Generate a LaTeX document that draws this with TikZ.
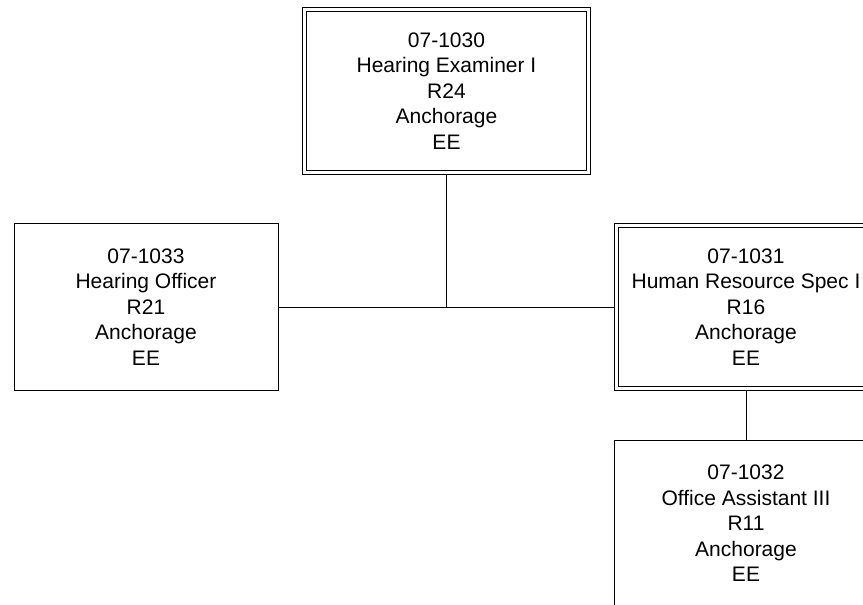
\documentclass[tikz,border=0pt]{standalone}
\usepackage{fontspec}
\setmainfont{Liberation Sans}
\usetikzlibrary{positioning, backgrounds}
\tikzset {
    x=1pt, y=1pt,
    line width=1.4pt,
    every node/.style={font=\fontsize{21}{25.6}\selectfont, align=center, inner sep=0pt},
    post/.style={draw, fill=white, minimum width=264pt, minimum height=167pt},
    lead/.style={draw, fill=white, double, double distance=3.4pt, minimum width=284pt, minimum height=163pt}
}
\begin{document}
\begin{tikzpicture}
                        \useasboundingbox (0,0) rectangle (863,-605);
                        \node[lead] (p1030) at (446.5,-91) {07-1030\\Hearing Examiner I\\R24\\Anchorage\\EE};
                        \node[post] (p1033) at (146,-307) {07-1033\\Hearing Officer\\R21\\Anchorage\\EE};
                        \node[lead, minimum width=259pt] (p1031) at (746,-307) {07-1031\\Human Resource Spec I\\R16\\Anchorage\\EE};
                        \node[post, below=51pt of p1031] (p1032) {07-1032\\Office Assistant III\\R11\\Anchorage\\EE};
                        \coordinate (jn) at (p1030.south |- p1033.east);

                        \begin{pgfonlayer}{background}
                        \draw
                        (p1030) -- (jn)
                        (p1033) -- (p1031)
                        (p1031) -- (p1032);
                        \end{pgfonlayer}
                        
                    \end{tikzpicture}
\end{document}
